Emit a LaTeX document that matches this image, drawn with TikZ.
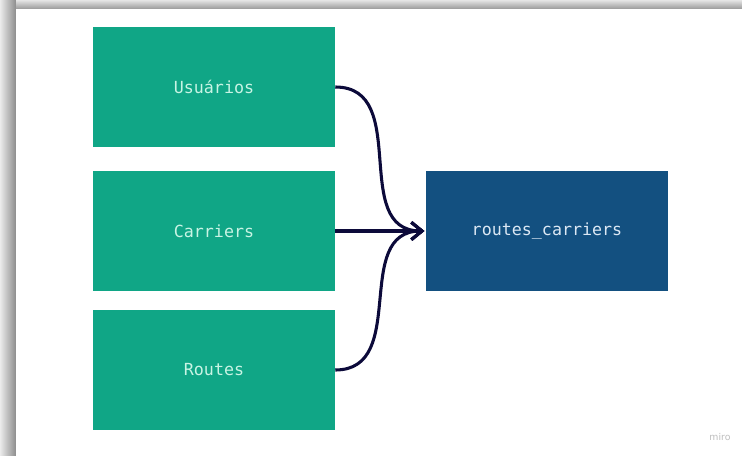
\documentclass[tikz,border=0pt]{standalone}
\usepackage{fontspec}
\setmonofont{DejaVu Sans Mono}
\setsansfont{DejaVu Sans}
\usetikzlibrary{arrows.meta}

\definecolor{miroteal}{RGB}{16,166,134}
\definecolor{miroblue}{RGB}{19,80,128}
\definecolor{mironavy}{RGB}{12,10,58}
\definecolor{mintext}{RGB}{200,244,228}
\definecolor{bluetext}{RGB}{220,232,244}

\begin{document}
\begin{tikzpicture}[x=0.75pt, y=-0.75pt,
    table/.style={fill=miroteal, minimum width=181.5pt, minimum height=90pt,
        inner sep=0pt, text=mintext, font=\ttfamily\fontsize{12.5}{15}\selectfont},
    joined/.style={table, fill=miroblue, text=bluetext},
    link/.style={draw=mironavy, line width=2.3pt,
        -{Straight Barb[length=8pt, width=13pt, line width=2.3pt]}, shorten >=1pt}]

\useasboundingbox (0,0) rectangle (742,456);

% ── FRAME ───────────────────────────────────────────────────────────
\shade[left color=black!8, right color=black!45] (0,0) rectangle (16,456);
\shade[top color=black!10, bottom color=black!40] (16,0) rectangle (742,9);
\fill[white] (16,9) rectangle (742,456);

% ── TABLES ──────────────────────────────────────────────────────────
\node[table] (usuarios) at (214,87) {Usuários};
\node[table] (carriers) at (214,231) {Carriers};
\node[table] (routes) at (214,370) {Routes};

\node[joined] (rc) at (547,231) {routes\_carriers};

% ── LINKS ───────────────────────────────────────────────────────────
\draw[link] (usuarios.east) to[out=0, in=180, looseness=1.15] (rc.west);
\draw[link] (carriers.east) -- (rc.west);
\draw[link] (routes.east) to[out=0, in=180, looseness=1.15] (rc.west);

% Watermark
\node[black!25, font=\sffamily\fontsize{7}{8}\selectfont] (miro) at (720,437) {miro};

\end{tikzpicture}
\end{document}
